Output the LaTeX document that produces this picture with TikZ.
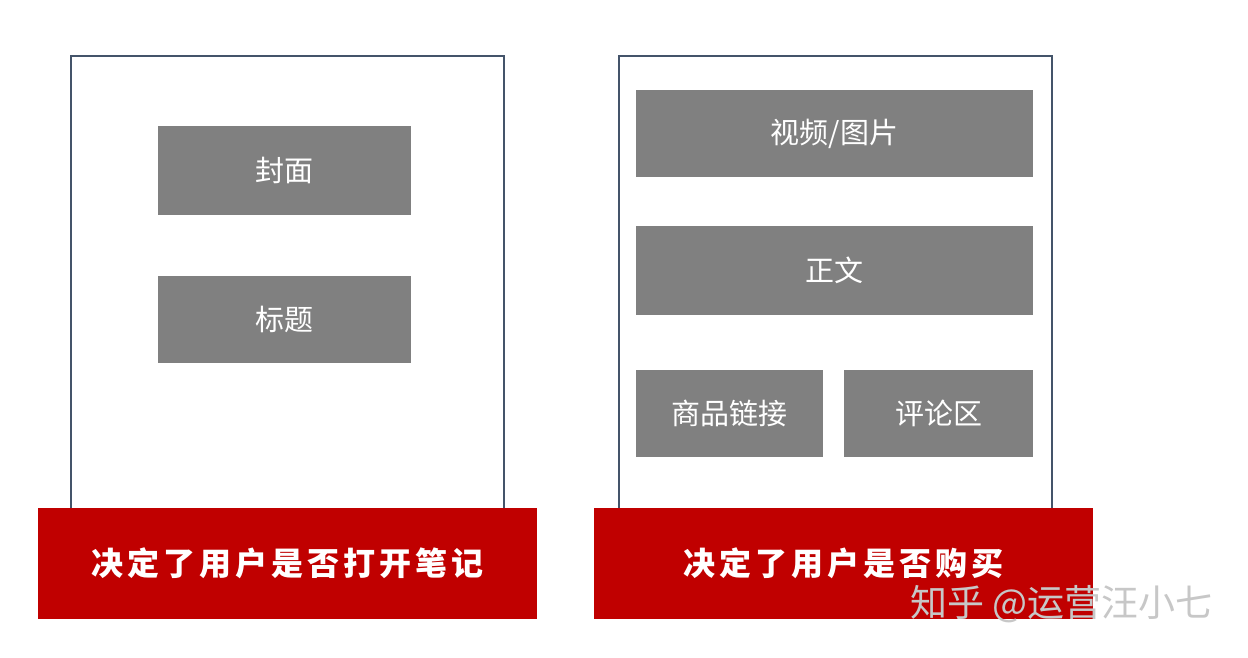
\documentclass[tikz,border=0pt]{standalone}
\usepackage{fontspec}
\newfontfamily\cjk{Noto Sans CJK SC}
\definecolor{frame}{HTML}{44546A}
\definecolor{barred}{HTML}{C00000}
\definecolor{boxgray}{HTML}{808080}
\newcommand{\gs}{\hspace{4pt}}
\begin{document}
\begin{tikzpicture}[x=1pt,y=-1pt,
  outer/.style={draw=frame,line width=1.8pt,fill=white},
  gbox/.style={fill=boxgray,text=white,font=\cjk\fontsize{29}{32}\selectfont,inner sep=0pt},
  rbar/.style={fill=barred,text=white,font=\cjk\bfseries\fontsize{32}{38}\selectfont,inner sep=0pt}]
\useasboundingbox (0,0) rectangle (1248,658);
\fill[white] (0,0) rectangle (1248,658);
% outer frames
\draw[outer] (71,56) rectangle (504,520);
\draw[outer] (619,56) rectangle (1052,520);
% gray boxes
\node[gbox,minimum width=253pt,minimum height=89pt] (cover) at (284.5,170.5) {封面};
\node[gbox,minimum width=253pt,minimum height=87pt] (title) at (284.5,319.5) {标题};
\node[gbox,minimum width=397pt,minimum height=87pt] (media) at (834.5,133.5) {视频/图片};
\node[gbox,minimum width=397pt,minimum height=89pt] (body) at (834.5,270.5) {正文};
\node[gbox,minimum width=187pt,minimum height=87pt] (goods) at (729.5,413.5) {商品链接};
\node[gbox,minimum width=189pt,minimum height=87pt] (comm) at (938.5,413.5) {评论区};
% red bars
\node[rbar,minimum width=499pt,minimum height=111pt] (barL) at (287.5,563.5) {决\gs 定\gs 了\gs 用\gs 户\gs 是\gs 否\gs 打\gs 开\gs 笔\gs 记};
\node[rbar,minimum width=499pt,minimum height=111pt] (barR) at (843.5,563.5) {决\gs 定\gs 了\gs 用\gs 户\gs 是\gs 否\gs 购\gs 买};
% watermark
\node[text=black!22,font=\cjk\fontsize{37}{42}\selectfont,anchor=west,inner sep=0pt] (wm) at (910,604) {知乎 @运营汪小七};
\end{tikzpicture}
\end{document}
